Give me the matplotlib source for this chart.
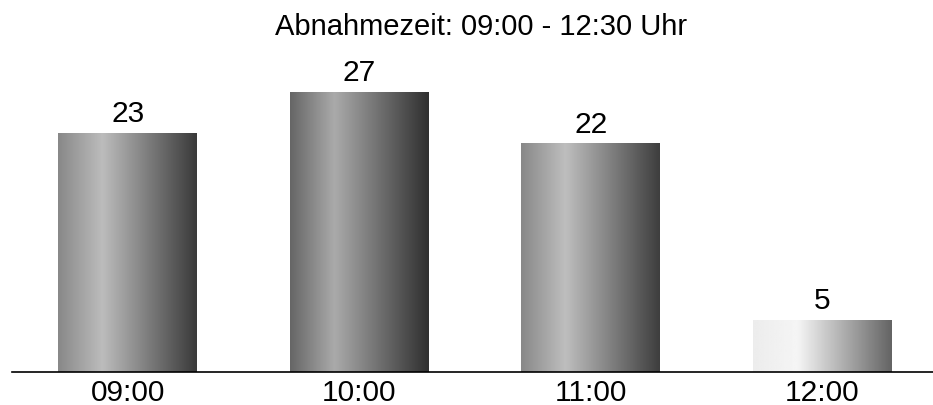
import numpy as np
import matplotlib
matplotlib.use("Agg")
import matplotlib.pyplot as plt

categories = ["09:00", "10:00", "11:00", "12:00"]
values = [23, 27, 22, 5]
title = "Abnahmezeit: 09:00 - 12:30 Uhr"

# gradient stops per bar (left, highlight, right) grey levels 0-255
grad_left = [136, 102, 136, 236]
grad_peak = [188, 170, 190, 245]
grad_right = [58, 48, 62, 100]
peak_pos = 0.32

plt.rcParams['font.family'] = ['Liberation Sans', 'DejaVu Sans']

fig = plt.figure(figsize=(9.33, 4.06), dpi=100)
ax = fig.add_axes([12/933, 33/406, (938-12)/933, 311/406])
x = np.arange(len(categories))
bars = ax.bar(x, values, width=0.6, color='none', edgecolor='none')
ax.set_xlim(-0.5, 3.5)
ax.set_ylim(0, 30)

for b, l, p, r in zip(bars, grad_left, grad_peak, grad_right):
    x0, w, h = b.get_x(), b.get_width(), b.get_height()
    t = np.linspace(0, 1, 256)
    g = np.interp(t, [0, peak_pos, 1], [l, p, r]) / 255.0
    img = np.tile(g, (2, 1))
    ax.imshow(img, cmap='gray', vmin=0, vmax=1, extent=(x0, x0 + w, 0, h),
              aspect='auto', interpolation='bilinear', zorder=2)
    ax.text(x0 + w/2, h + 0.6, str(int(h)), ha='center', va='bottom',
            fontsize=21.5, color='black')

ax.set_xlim(-0.5, 3.5)
ax.set_ylim(0, 30)
for s in ['top', 'right', 'left']:
    ax.spines[s].set_visible(False)
ax.spines['bottom'].set_color('black')
ax.spines['bottom'].set_linewidth(1.2)
ax.set_yticks([])
ax.set_xticks(x)
ax.set_xticklabels(categories, fontsize=21.5)
ax.tick_params(axis='x', length=0, pad=4)

fig.text(481/933, 1 - 27/406, title, ha='center', va='center', fontsize=21)

fig.savefig("out.png", dpi=100)
